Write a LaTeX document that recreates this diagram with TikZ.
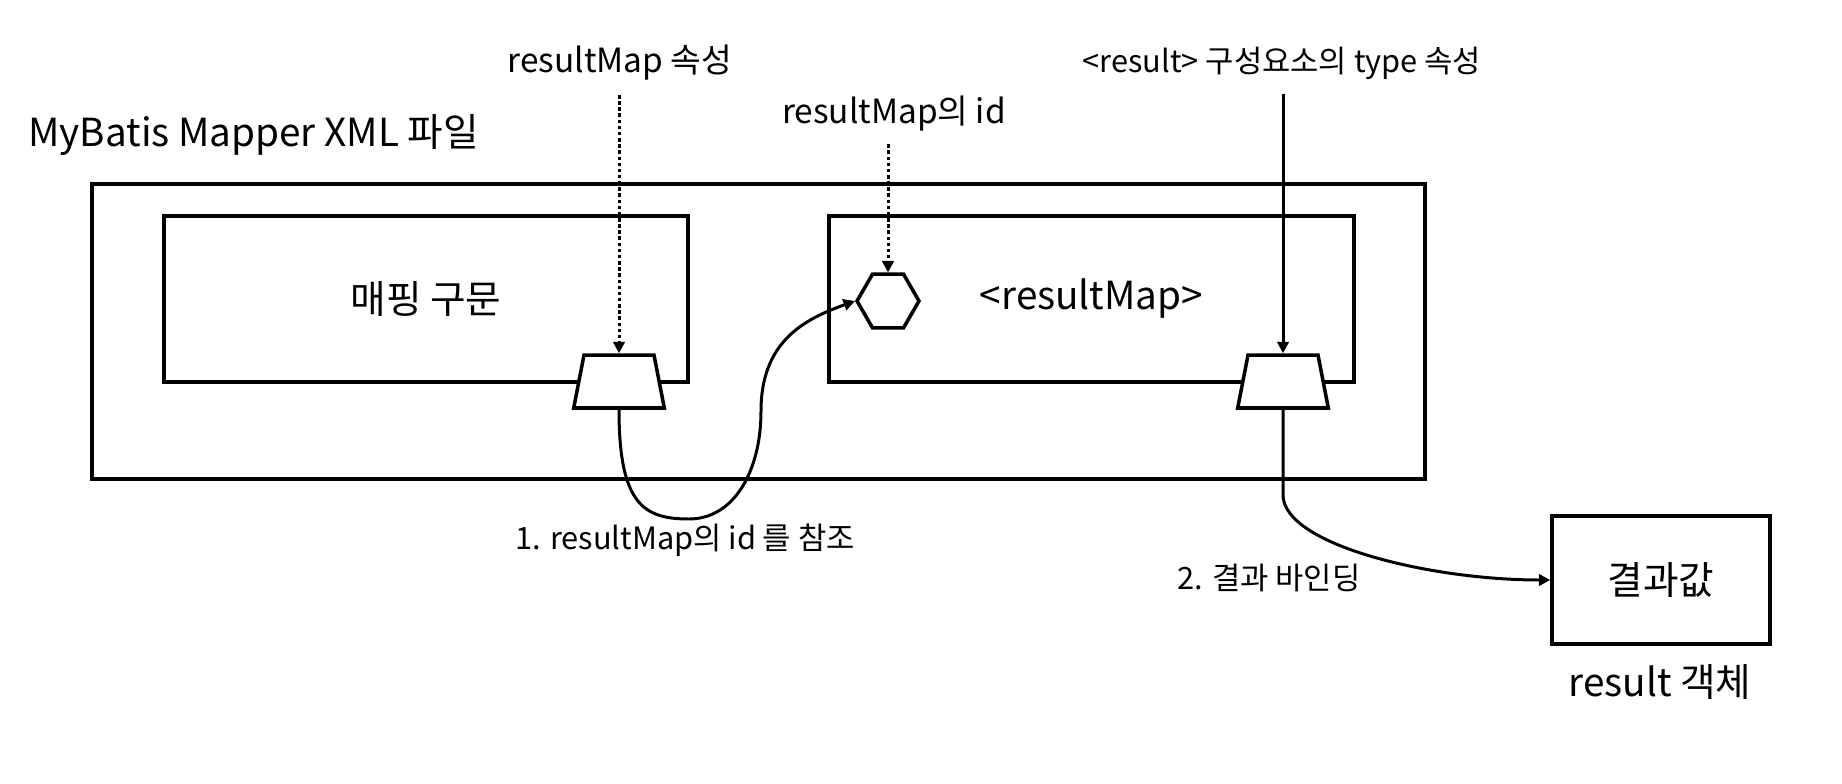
\documentclass[tikz,border=0pt]{standalone}
\usepackage{fontspec}
\setmainfont{Noto Sans CJK KR}
\usetikzlibrary{positioning, shapes.geometric, arrows.meta}

\begin{document}
\begin{tikzpicture}[
    x=0.02cm, y=-0.02cm,
    every node/.style={inner sep=0pt, align=center},
    bigtxt/.style  ={font=\fontsize{22pt}{26pt}\selectfont},
    midtxt/.style  ={font=\fontsize{19pt}{23pt}\selectfont},
    smalltxt/.style={font=\fontsize{17.5pt}{21pt}\selectfont},
    box/.style ={draw, line width=2pt},
    port/.style={draw, fill=white, line width=2pt, trapezium, trapezium angle=79,
                 inner xsep=0.7cm, inner ysep=0.53cm},
    key/.style ={draw, fill=white, line width=2pt, regular polygon, regular polygon sides=6,
                 minimum size=1.24cm},
    arrow/.style={-{Triangle[length=6.5pt, width=6.5pt]}, line width=1.7pt},
    dots/.style ={arrow, dash pattern=on 2pt off 1.5pt}
]
\useasboundingbox (0,0) rectangle (1842,784);

% Labels on top
\node[bigtxt, anchor=west] (title) at (28,135) {MyBatis Mapper XML 파일};
\node[midtxt]   (attr)    at (620,63)  {resultMap 속성};
\node[midtxt]   (idlbl)   at (894,114) {resultMap의 id};
\node[smalltxt] (typelbl) at (1282,63) {<result> 구성요소의 type 속성};

% Mapper file and its two parts
\node[box, minimum width=26.66cm, minimum height=5.9cm] (file) at (758.5,331.5) {};
\node[box, bigtxt, minimum width=10.48cm, minimum height=3.32cm] (stmt) at (426,299) {매핑 구문};
\node[box, bigtxt, minimum width=10.5cm, minimum height=3.32cm] (rmap) at (1091.5,299) {<resultMap>};

% Id and attribute ports
\node[key]  (hex)   at (888,301)   {};
\node[port] (lport) at (619,381.5) {};
\node[port] (rport) at (1283,381.5) {};

% Result object
\node[box, bigtxt, minimum width=4.36cm, minimum height=2.56cm] (value) at (1661,580) {결과값};
\node[bigtxt] (obj) at (1660,682) {result 객체};

% Step labels
\node[smalltxt] (ref)  at (685,540)  {1. resultMap의 id 를 참조};
\node[smalltxt] (bind) at (1269,578) {2. 결과 바인딩};

% Arrows
\draw[dots, shorten <=8pt] (attr.south -| lport.north) -- (lport.north);
\draw[dots, shorten <=7pt] (idlbl.south -| hex.north) -- (hex.north);
\draw[arrow, shorten <=8pt] (typelbl.south -| rport.north) -- (rport.north);
\draw[arrow] (lport.south) .. controls +(0,95) and +(-45,0) .. (689,519)
                           .. controls +(45,0) and +(0,60) .. (761,411)
                           .. controls +(0,-70) and +(-50,18) .. (hex.west);
\draw[arrow] (rport.south) -- ++(0,85) .. controls +(0,50) and +(-120,0) .. (value.west);

\end{tikzpicture}
\end{document}
